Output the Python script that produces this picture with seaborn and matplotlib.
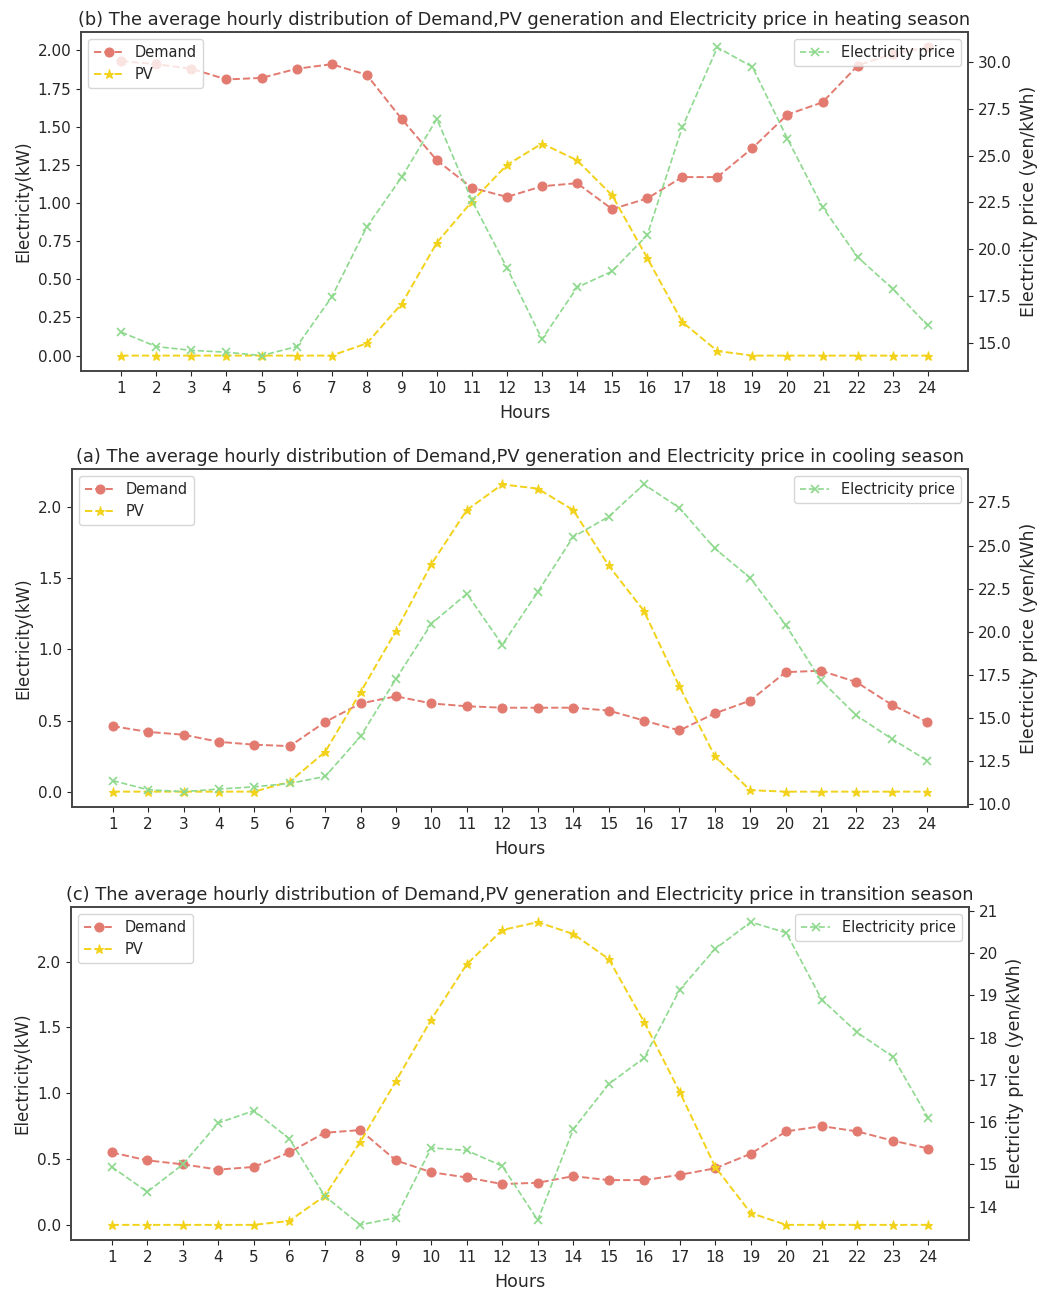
import numpy as np
import pandas as pd
import matplotlib
matplotlib.use("Agg")
import matplotlib.pyplot as plt
import seaborn as sns

sns.set_style("ticks")
plt.rcParams['font.family'] = ['DejaVu Sans']

hours = list(range(1, 25))

# (b) heating season
heat_demand = [1.93, 1.91, 1.88, 1.81, 1.82, 1.88, 1.91, 1.84, 1.55, 1.28, 1.10, 1.04,
               1.11, 1.13, 0.96, 1.03, 1.17, 1.17, 1.36, 1.58, 1.66, 1.90, 1.98, 2.02]
heat_pv = [0, 0, 0, 0, 0, 0, 0, 0.08, 0.34, 0.74, 1.01, 1.25,
           1.39, 1.28, 1.05, 0.64, 0.22, 0.03, 0, 0, 0, 0, 0, 0]
heat_price = [15.57, 14.8, 14.6, 14.5, 14.32, 14.8, 17.44, 21.18, 23.85, 26.95, 22.6, 19.0,
              15.2, 17.96, 18.82, 20.75, 26.5, 30.77, 29.73, 25.9, 22.25, 19.58, 17.89, 15.93]

# (a) cooling season
cool_demand = [0.46, 0.42, 0.40, 0.35, 0.33, 0.32, 0.49, 0.62, 0.67, 0.62, 0.60, 0.59,
               0.59, 0.59, 0.57, 0.50, 0.43, 0.55, 0.64, 0.84, 0.85, 0.77, 0.61, 0.49]
cool_pv = [0, 0, 0, 0, 0, 0.07, 0.28, 0.70, 1.13, 1.60, 1.98, 2.16,
           2.13, 1.98, 1.59, 1.27, 0.74, 0.25, 0.01, 0, 0, 0, 0, 0]
cool_price = [11.36, 10.83, 10.72, 10.87, 11.0, 11.2, 11.6, 13.93, 17.27, 20.47, 22.2, 19.24,
              22.3, 25.5, 26.67, 28.55, 27.19, 24.83, 23.12, 20.4, 17.17, 15.14, 13.78, 12.52]

# (c) transition season
tran_demand = [0.55, 0.49, 0.46, 0.42, 0.44, 0.55, 0.70, 0.72, 0.49, 0.40, 0.36, 0.31,
               0.32, 0.37, 0.34, 0.34, 0.38, 0.43, 0.54, 0.71, 0.75, 0.71, 0.64, 0.58]
tran_pv = [0, 0, 0, 0, 0, 0.03, 0.22, 0.63, 1.09, 1.56, 1.98, 2.24,
           2.30, 2.21, 2.02, 1.54, 1.01, 0.44, 0.09, 0, 0, 0, 0, 0]
tran_price = [14.94, 14.35, 15.0, 15.98, 16.27, 15.61, 14.25, 13.57, 13.74, 15.39, 15.33, 14.96,
              13.68, 15.83, 16.9, 17.52, 19.13, 20.1, 20.73, 20.48, 18.9, 18.12, 17.55, 16.1]

titles = [
    "(b) The average hourly distribution of Demand,PV generation and Electricity price in heating season",
    "(a) The average hourly distribution of Demand,PV generation and Electricity price in cooling season",
    "(c) The average hourly distribution of Demand,PV generation and Electricity price in transition season",
]
panels = [
    (heat_demand, heat_pv, heat_price),
    (cool_demand, cool_pv, cool_price),
    (tran_demand, tran_pv, tran_price),
]
# axes rectangles in pixels: left, top, right, bottom
W, H = 1045, 1294
rects = [(81, 32, 968, 371), (72, 469, 968, 807), (71, 907, 969, 1240)]

c_dem = "#E27A70"
c_pv = "#F2D21B"
c_price = "#8ED98E"

fig = plt.figure(figsize=(W / 100, H / 100), dpi=100)

for (dem, pv, price), title, (l, t, r, b) in zip(panels, titles, rects):
    ax = fig.add_axes([l / W, 1 - b / H, (r - l) / W, (b - t) / H])
    df = pd.DataFrame({"Hours": hours, "Demand": dem, "PV": pv, "Price": price})
    sns.lineplot(data=df, x="Hours", y="Demand", ax=ax, color=c_dem, linestyle="--",
                 marker="o", markersize=6.5, markeredgecolor=c_dem, linewidth=1.4, label="Demand")
    sns.lineplot(data=df, x="Hours", y="PV", ax=ax, color=c_pv, linestyle="--",
                 marker="*", markersize=6.5, markeredgecolor=c_pv, linewidth=1.4, label="PV")
    ax2 = ax.twinx()
    sns.lineplot(data=df, x="Hours", y="Price", ax=ax2, color=c_price, linestyle="--",
                 marker="x", markersize=6, markeredgecolor=c_price, markeredgewidth=1.2,
                 linewidth=1.2, label="Electricity price")
    ax.set_xticks(hours)
    ax.set_xticklabels([str(h) for h in hours])
    ax.set_xlim(-0.15, 25.15)
    ax.set_ylabel("Electricity(kW)", fontsize=12)
    ax.set_xlabel("Hours", fontsize=12.5, labelpad=6)
    ax2.set_ylabel("Electricity price (yen/kWh)", fontsize=12.5, labelpad=6)
    ax.set_title(title, fontsize=12.8, pad=5)
    ax.tick_params(labelsize=11)
    ax2.tick_params(labelsize=11)
    ax.legend(loc="upper left", fontsize=10.5)
    ax2.legend(loc="upper right", fontsize=10.5)
    for a in (ax, ax2):
        for s in a.spines.values():
            s.set_color("#444444")
            s.set_linewidth(1.2)

fig.savefig("out.png", dpi=100)
